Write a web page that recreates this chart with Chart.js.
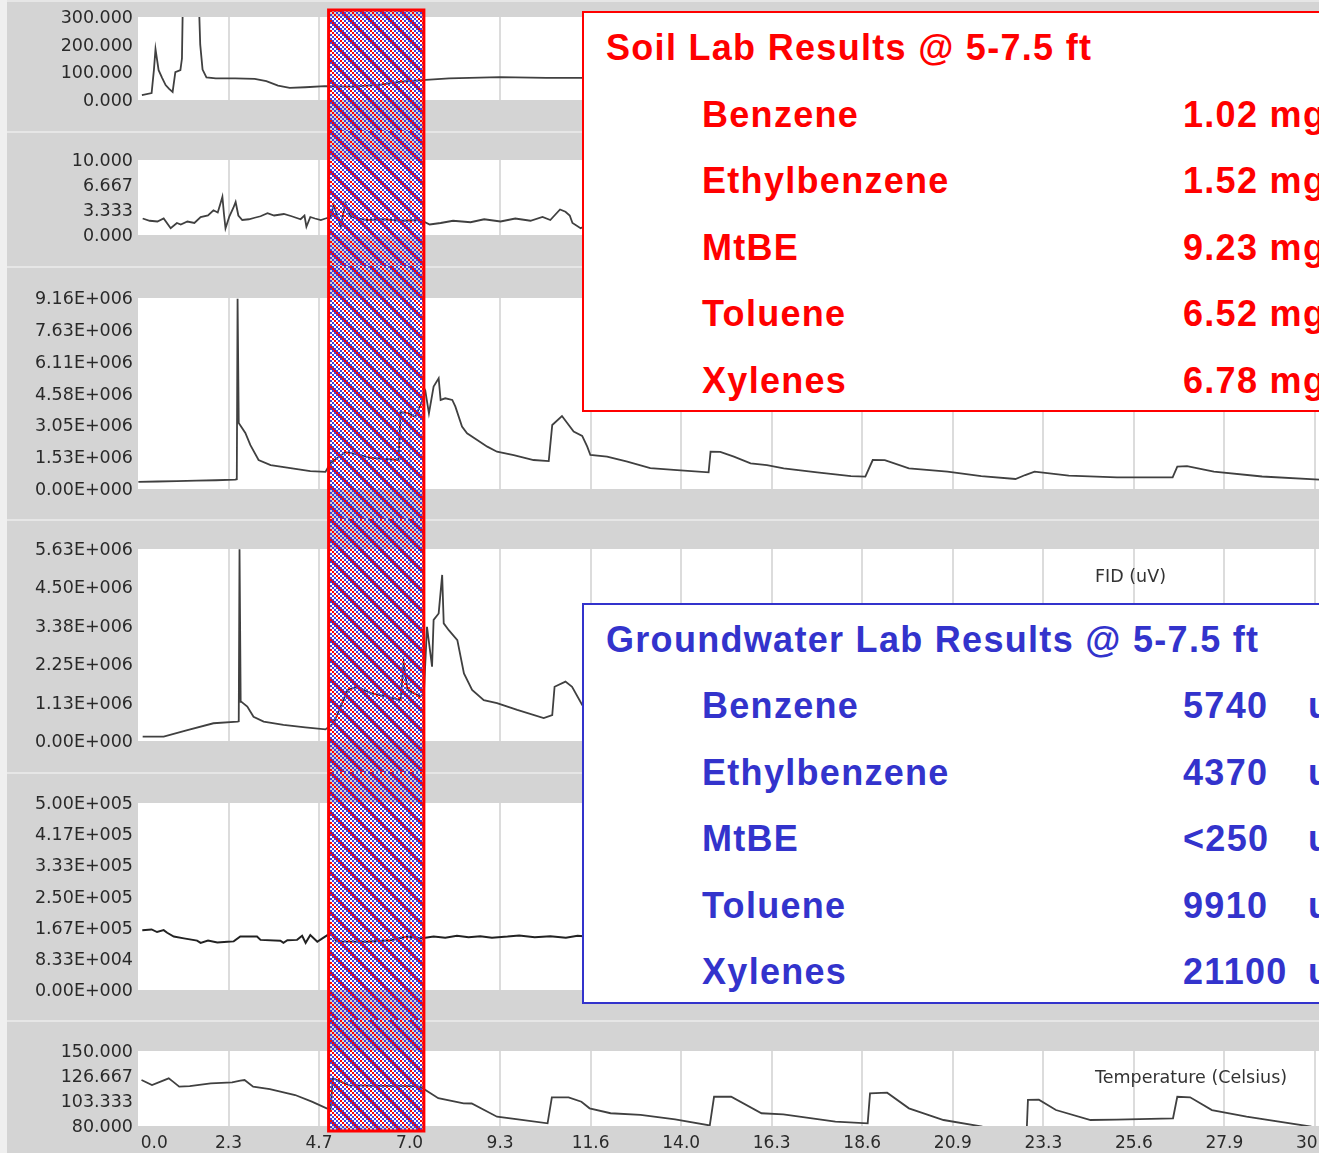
<!DOCTYPE html>
<html>
<head>
<meta charset="utf-8">
<script src="https://cdn.jsdelivr.net/npm/chart.js@4.4.1/dist/chart.umd.min.js"></script>
<style>
  html, body { margin: 0; padding: 0; background: #d4d4d4; overflow: hidden; }
  #wrap { position: relative; width: 1319px; height: 1153px; overflow: hidden; }
  #wrap canvas { position: absolute; left: 0; }
  .box { position: absolute; width: 800px; background: #fff; border: 2px solid; box-sizing: border-box; z-index: 2; }
  .t { position: absolute; font: bold 36px 'Liberation Sans', Arial, sans-serif; line-height: 36px;
       letter-spacing: 1.3px; white-space: nowrap; z-index: 3; }
  .lbl { position: absolute; font: 17.5px 'DejaVu Sans', sans-serif; line-height: 20px; color: #333; z-index: 1; }
</style>
</head>
<body>
<div id="wrap">
  <canvas id="p1" width="1364" height="131" style="top:0px"></canvas>
  <canvas id="p2" width="1364" height="135" style="top:131px"></canvas>
  <canvas id="p3" width="1364" height="253" style="top:266px"></canvas>
  <canvas id="p4" width="1364" height="253" style="top:519px"></canvas>
  <canvas id="p5" width="1364" height="248" style="top:772px"></canvas>
  <canvas id="p6" width="1364" height="133" style="top:1020px"></canvas>
  <div class="lbl" style="left:1095px;top:566px">FID (uV)</div>
  <div class="lbl" style="left:1095px;top:1067px">Temperature (Celsius)</div>
  <div class="box" style="left:582px;top:11px;height:401px;border-color:#ff0000"></div>
  <div class="box" style="left:582px;top:603px;height:401px;border-color:#3333cc"></div>
</div>
<script>
// depth axis (shared by all traces)
const xTickVals = [0, 2.3275, 4.655, 6.9825, 9.31, 11.6375, 13.965, 16.2925, 18.62, 20.9475, 23.275, 25.6025, 27.93, 30.2575];
const xTickLabels = ['0.0', '2.3', '4.7', '7.0', '9.3', '11.6', '14.0', '16.3', '18.6', '20.9', '23.3', '25.6', '27.9', '30.2'];
const X_MAX = 31.52;

// sampled interval
const sampleFrom = 4.9, sampleTo = 7.35;

// panel 1
const depth1 = [0.1,0.35,0.41,0.45,0.53,0.62,0.71,0.8,0.89,0.96,1.09,1.13,1.16,1.55,1.6,1.66,1.76,2.0,2.5,3.0,3.3,3.6,3.9,4.3,4.8,5.5,6.2,6.75,7.3,8.0,9.3,10.5,11.7];
const trace1 = [18,25,110,184,108,80,54,40,29,101,108,150,420,420,200,110,82,78,78,76,68,52,44,46,50,48,55,66,72,78,83,80,80];
const yTicks1 = [0, 100, 200, 300];
const yLabels1 = ['0.000', '100.000', '200.000', '300.000'];

// panel 2
const depth2 = [0.12,0.3,0.5,0.66,0.84,1.0,1.1,1.27,1.45,1.61,1.8,1.94,2.05,2.12,2.17,2.21,2.25,2.35,2.45,2.51,2.58,2.68,2.85,3.0,3.15,3.33,3.5,3.75,3.95,4.18,4.28,4.33,4.43,4.55,4.7,4.82,4.95,5.03,5.12,5.21,5.33,5.45,5.6,5.9,6.3,6.8,7.26,7.5,7.78,8.1,8.55,8.9,9.32,9.7,10.09,10.4,10.6,10.85,10.99,11.1,11.17,11.38,11.6];
const trace2 = [2.2,1.9,1.8,2.2,0.9,1.6,1.4,1.8,1.6,2.4,2.6,3.3,3.0,4.2,5.1,2.8,0.9,2.5,3.6,4.4,2.6,2.0,2.1,2.3,2.5,2.9,2.6,2.8,2.5,2.1,2.6,1.1,2.4,2.2,2.0,2.2,2.4,4.0,2.6,1.1,4.2,2.6,2.2,2.0,2.1,1.9,2.0,1.4,1.6,1.9,1.7,2.1,1.8,2.2,1.9,2.4,2.0,3.4,3.1,2.6,1.6,0.9,1.5];
const yTicks2 = [0, 3.333, 6.667, 10];
const yLabels2 = ['0.000', '3.333', '6.667', '10.000'];

// panel 3 (values x1e6)
const depth3 = [0.01,0.5,1.0,1.5,2.0,2.5,2.54,2.56,2.59,2.76,2.89,3.10,3.41,3.92,4.43,4.82,4.95,5.33,5.59,5.98,6.70,6.75,6.95,7.13,7.30,7.39,7.48,7.60,7.73,7.78,7.90,8.08,8.16,8.33,8.46,8.72,8.98,9.23,9.66,10.17,10.56,10.65,10.90,11.20,11.42,11.55,11.63,12.06,12.58,13.17,13.86,14.67,14.72,14.97,15.32,15.75,16.17,16.60,17.46,18.33,18.70,18.89,19.20,19.82,20.81,21.68,22.56,22.81,23.05,23.93,25.17,26.60,26.72,26.97,27.66,28.90,30.37,31.6];
const trace3 = [0.34,0.36,0.38,0.40,0.42,0.45,0.47,9.12,3.17,2.69,2.10,1.39,1.15,1.00,0.86,0.82,1.25,1.77,1.68,1.49,1.39,3.69,3.64,3.45,4.20,4.67,3.63,4.91,5.31,4.27,4.35,4.27,3.95,2.99,2.67,2.35,2.03,1.79,1.63,1.39,1.34,3.07,3.50,2.75,2.55,2.03,1.63,1.55,1.31,1.00,0.91,0.80,1.79,1.78,1.55,1.23,1.15,0.99,0.80,0.62,0.59,1.39,1.38,0.99,0.83,0.62,0.48,0.67,0.83,0.64,0.56,0.56,1.07,1.10,0.83,0.60,0.45,0.43];
const yTicks3 = [0, 1.527, 3.053, 4.58, 6.107, 7.633, 9.16];
const yLabels3 = ['0.00E+000', '1.53E+006', '3.05E+006', '4.58E+006', '6.11E+006', '7.63E+006', '9.16E+006'];

// panel 4 (values x1e6)
const depth4 = [0.12,0.66,1.27,1.94,2.56,2.59,2.61,2.64,2.66,2.81,2.97,3.23,3.74,4.3,4.82,5.03,5.39,5.64,5.98,6.4,6.75,6.83,6.93,7.26,7.35,7.43,7.56,7.60,7.73,7.82,7.86,7.99,8.21,8.38,8.59,8.89,9.23,9.75,10.43,10.65,10.71,10.99,11.16,11.42,11.8];
const trace4 = [0.13,0.13,0.32,0.52,0.57,0.58,5.62,1.15,1.15,1.01,0.71,0.57,0.47,0.40,0.34,0.52,1.50,1.59,1.40,1.30,1.20,2.28,1.50,1.30,1.40,3.35,2.18,3.55,3.74,4.87,3.45,3.25,2.96,1.98,1.50,1.20,1.11,0.91,0.67,0.76,1.59,1.74,1.59,1.06,0.95];
const yTicks4 = [0, 1.126, 2.252, 3.378, 4.504, 5.63];
const yLabels4 = ['0.00E+000', '1.13E+006', '2.25E+006', '3.38E+006', '4.50E+006', '5.63E+006'];

// panel 5 (values x1e5)
const depth5 = [0.11,0.35,0.49,0.66,0.75,0.92,1.18,1.52,1.61,1.8,2.04,2.3,2.46,2.63,3.06,3.15,3.66,3.74,3.84,4.09,4.22,4.31,4.43,4.61,4.74,4.95,5.1,5.89,6.5,6.92,7.26,7.6,7.9,8.2,8.5,8.8,9.1,9.5,9.8,10.2,10.6,11.0,11.3,11.7];
const trace5 = [1.60,1.62,1.55,1.60,1.53,1.43,1.38,1.32,1.26,1.32,1.27,1.29,1.30,1.43,1.43,1.34,1.32,1.26,1.33,1.34,1.45,1.26,1.47,1.29,1.38,1.52,1.30,1.29,1.33,1.43,1.38,1.43,1.40,1.45,1.41,1.44,1.40,1.43,1.46,1.41,1.44,1.40,1.45,1.42];
const yTicks5 = [0, 0.833, 1.667, 2.5, 3.333, 4.167, 5];
const yLabels5 = ['0.00E+000', '8.33E+004', '1.67E+005', '2.50E+005', '3.33E+005', '4.17E+005', '5.00E+005'];

// panel 6: temperature (Celsius)
const depth6 = [0.09,0.36,0.58,0.79,0.90,1.06,1.33,1.87,2.42,2.63,2.74,2.96,3.39,4.04,4.47,4.85,4.95,5.01,5.44,6.2,7.18,7.29,7.39,7.72,8.37,8.58,9.23,9.77,10.53,10.64,11.07,11.40,11.61,12.15,12.92,13.81,14.70,14.81,15.25,16.03,16.59,17.93,18.76,18.82,19.26,19.82,20.71,21.71,22.3,22.85,22.88,23.16,23.60,24.49,25.16,26.61,26.72,27.05,27.61,28.50,30.17,31.6];
const trace6 = [122.9,118.3,121.4,124.5,121.4,116.7,117.3,119.8,120.8,122.3,122.9,116.7,114.5,108.9,102.7,96.5,96.0,124.5,118.0,117.5,117.3,116.0,113.6,105.9,101.2,101.0,88.7,86.2,82.5,106.8,106.8,102.7,96.5,91.9,90.3,86.2,80.5,107.3,107.3,91.9,90.9,84.0,82.5,110.5,111.1,96.5,85.6,79.4,77.0,77.0,104.3,104.5,94.9,85.6,86.0,87.2,107.3,106.8,94.9,88.7,79.4,78.0];
const yTicks6 = [80, 103.333, 126.667, 150];
const yLabels6 = ['80.000', '103.333', '126.667', '150.000'];

// lab results
const analytes = ['Benzene', 'Ethylbenzene', 'MtBE', 'Toluene', 'Xylenes'];
const soilResults = ['1.02 mg/kg', '1.52 mg/kg', '9.23 mg/kg', '6.52 mg/kg', '6.78 mg/kg'];
const gwResults = ['5740', '4370', '<250', '9910', '21100'];
const gwUnit = 'ug/L';

const tickFont = { family: "'DejaVu Sans', sans-serif", size: 17.5 };

// blue checker with red diagonals, gaps left transparent
function makePattern(ctx) {
  const tile = document.createElement('canvas');
  tile.width = tile.height = 20;
  const t = tile.getContext('2d');
  for (let ci = 0; ci < 10; ci++) {
    for (let cj = 0; cj < 10; cj++) {
      let c = null;
      if ((ci - cj + 10) % 5 === 0) c = '#ff0000';
      else if ((ci + cj) % 2 === 0) c = '#4040d8';
      if (c) { t.fillStyle = c; t.fillRect(ci * 2, cj * 2, 2, 2); }
    }
  }
  return ctx.createPattern(tile, 'repeat');
}

const panelBg = {
  id: 'panelBg',
  beforeDraw(chart) {
    const { ctx, chartArea: a, width, height } = chart;
    ctx.save();
    ctx.fillStyle = '#d4d4d4';
    ctx.fillRect(0, 0, width, height);
    ctx.fillStyle = '#e6e6e6';
    ctx.fillRect(0, 0, width, 2);
    ctx.fillStyle = '#efefef';
    ctx.fillRect(0, 0, 7, height);
    ctx.fillStyle = '#ffffff';
    ctx.fillRect(a.left, a.top, a.right - a.left, a.bottom - a.top);
    ctx.restore();
  }
};

const band = {
  id: 'band',
  afterDraw(chart, args, o) {
    const { ctx, scales: { x, y } } = chart;
    const x1 = x.getPixelForValue(o.from), x2 = x.getPixelForValue(o.to);
    const y1 = o.top != null ? y.getPixelForValue(o.top) : 0;
    const y2 = o.bottom != null ? y.getPixelForValue(o.bottom) : chart.height;
    if (!chart.$pattern) chart.$pattern = makePattern(ctx);
    ctx.save();
    ctx.fillStyle = chart.$pattern;
    ctx.fillRect(x1, y1, x2 - x1, y2 - y1);
    ctx.strokeStyle = '#ff0000';
    ctx.lineWidth = 3;
    ctx.beginPath();
    ctx.moveTo(x1, y1); ctx.lineTo(x1, y2);
    ctx.moveTo(x2, y1); ctx.lineTo(x2, y2);
    if (o.top != null) { ctx.moveTo(x1 - 1.5, y1); ctx.lineTo(x2 + 1.5, y1); }
    if (o.bottom != null) { ctx.moveTo(x1 - 1.5, y2); ctx.lineTo(x2 + 1.5, y2); }
    ctx.stroke();
    ctx.restore();
  }
};

function panel(id, xs, ys, ticks, labels, p) {
  return new Chart(document.getElementById(id), {
    type: 'line',
    data: {
      datasets: [{
        data: xs.map((x, i) => ({ x: x, y: ys[i] })),
        borderColor: p.color || '#404040',
        borderWidth: p.width || 1.8,
        pointRadius: 0,
        tension: 0
      }]
    },
    options: {
      responsive: false,
      animation: false,
      events: [],
      layout: { padding: { top: p.padTop, bottom: p.padBottom, left: 0, right: 0 } },
      plugins: {
        legend: { display: false },
        tooltip: { enabled: false },
        band: { from: sampleFrom, to: sampleTo, top: p.bandTop, bottom: p.bandBottom }
      },
      scales: {
        x: {
          type: 'linear',
          min: 0,
          max: X_MAX,
          afterBuildTicks: s => { s.ticks = xTickVals.map(v => ({ value: v })); },
          afterFit: s => { s.height = p.showX ? 27 : 0; },
          grid: {
            color: c => (c.tick && c.tick.value === 0) ? 'rgba(0,0,0,0)' : '#dcdcdc',
            lineWidth: 2,
            drawTicks: false
          },
          border: { display: false },
          ticks: {
            display: !!p.showX,
            padding: 7,
            maxRotation: 0,
            autoSkip: false,
            color: '#2a2a2a',
            font: { family: tickFont.family, size: 17 },
            callback: (v, i) => i === 0 ? '      ' + xTickLabels[0] : xTickLabels[i]
          }
        },
        y: {
          min: ticks[0],
          max: ticks[ticks.length - 1],
          afterBuildTicks: s => { s.ticks = ticks.map(v => ({ value: v })); },
          afterFit: s => { s.width = 138; },
          grid: { display: false, drawTicks: false },
          border: { display: false },
          ticks: {
            padding: 5,
            autoSkip: false,
            labelOffset: 1.5,
            color: '#2a2a2a',
            font: tickFont,
            callback: (v, i) => labels[i]
          }
        }
      }
    },
    plugins: [panelBg, band]
  });
}

panel('p1', depth1, trace1, yTicks1, yLabels1, { padTop: 17, padBottom: 31, bandTop: 325 });
panel('p2', depth2, trace2, yTicks2, yLabels2, { padTop: 29, padBottom: 31 });
panel('p3', depth3, trace3, yTicks3, yLabels3, { padTop: 32, padBottom: 30 });
panel('p4', depth4, trace4, yTicks4, yLabels4, { padTop: 30, padBottom: 31 });
panel('p5', depth5, trace5, yTicks5, yLabels5, { padTop: 31, padBottom: 30, color: '#222', width: 2 });
panel('p6', depth6, trace6, yTicks6, yLabels6, { padTop: 31, padBottom: 0, showX: true, bandBottom: 75.3 });

// result boxes
const wrap = document.getElementById('wrap');
function addText(txt, left, top, color) {
  const d = document.createElement('div');
  d.className = 't';
  d.textContent = txt;
  d.style.left = left + 'px';
  d.style.top = top + 'px';
  d.style.color = color;
  wrap.appendChild(d);
}
const RED = '#ff0000', BLUE = '#3333cc';
addText('Soil Lab Results @ 5-7.5 ft', 606, 29.5, RED);
addText('Groundwater Lab Results @ 5-7.5 ft', 606, 621.5, BLUE);
analytes.forEach((name, i) => {
  addText(name, 702, 96.5 + i * 66.5, RED);
  addText(soilResults[i], 1183, 96.5 + i * 66.5, RED);
  addText(name, 702, 688 + i * 66.6, BLUE);
  addText(gwResults[i], 1183, 688 + i * 66.6, BLUE);
  addText(gwUnit, 1308, 688 + i * 66.6, BLUE);
});
</script>
</body>
</html>
